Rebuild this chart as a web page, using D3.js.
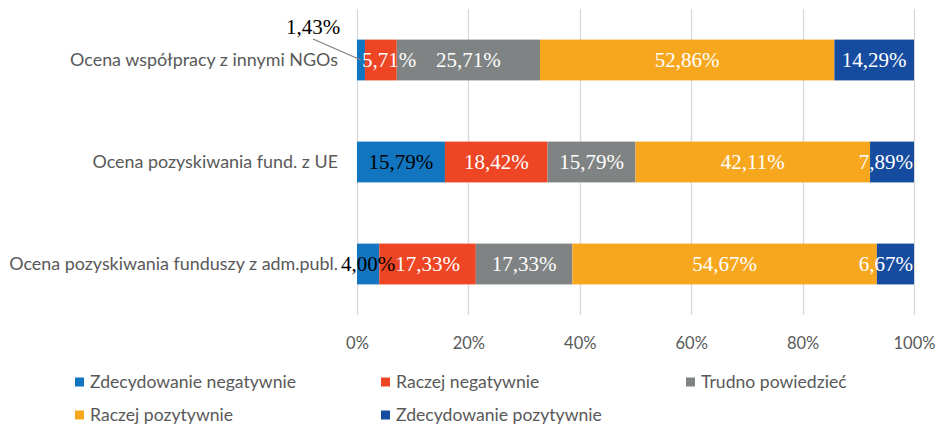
<!DOCTYPE html>
<html>
<head>
<meta charset="utf-8">
<script src="https://cdn.jsdelivr.net/npm/d3@7"></script>
<style>
  body { margin: 0; background: #fff; }
  text { font-family: "Lato", "Open Sans", sans-serif; }
</style>
</head>
<body>
<svg id="chart"></svg>
<script>
// Categories (top to bottom) and series
const categories = [
    "Ocena współpracy z innymi NGOs",
    "Ocena pozyskiwania fund. z UE",
    "Ocena pozyskiwania funduszy z adm.publ."
];
const seriesNames = [
    "Zdecydowanie negatywnie",
    "Raczej negatywnie",
    "Trudno powiedzieć",
    "Raczej pozytywnie",
    "Zdecydowanie pozytywnie"
];
const seriesColors = ["#1275bf", "#ee4524", "#7f8383", "#f7a71e", "#164ca0"];

// values in % per series, one per category
const zdecNeg = [1.43, 15.79, 4.00];
const raczNeg = [5.71, 18.42, 17.33];
const trudno  = [25.71, 15.79, 17.33];
const raczPoz = [52.86, 42.11, 54.67];
const zdecPoz = [14.29, 7.89, 6.67];
const seriesValues = [zdecNeg, raczNeg, trudno, raczPoz, zdecPoz];

const xTicks = [0, 0.2, 0.4, 0.6, 0.8, 1];

const width = 939;
const height = 426;

const svg = d3.select("#chart")
    .attr("width", width)
    .attr("height", height);

const x = d3.scaleLinear().domain([0, 1]).range([357, 914]);
const y = d3.scaleBand()
    .domain(categories)
    .range([9, 315])
    .paddingInner(0.6)
    .paddingOuter(0.3);

// Gridlines
svg.append("g")
    .selectAll("line")
    .data(xTicks)
    .enter().append("line")
    .attr("x1", d => Math.round(x(d)) + 0.5)
    .attr("x2", d => Math.round(x(d)) + 0.5)
    .attr("y1", 9)
    .attr("y2", 315)
    .attr("stroke", "#d9d9d9")
    .attr("stroke-width", 1.3);

// X axis labels
const xAxis = svg.append("g")
    .attr("transform", "translate(0,334)")
    .call(d3.axisBottom(x).tickValues(xTicks).tickFormat(d3.format(".0%")).tickSize(0));
xAxis.select(".domain").remove();
xAxis.selectAll("text")
    .attr("fill", "#595959")
    .style("font-size", "16.5px")
    .style("font-family", "Lato, sans-serif");

// Category labels
svg.append("g")
    .selectAll("text")
    .data(categories)
    .enter().append("text")
    .attr("x", 338)
    .attr("y", d => y(d) + y.bandwidth() / 2)
    .attr("dy", "0.35em")
    .attr("text-anchor", "end")
    .attr("fill", "#595959")
    .style("font-size", "17.9px")
    .text(d => d);

// Stack the data
const rows = categories.map((c, i) => {
    const r = { cat: c };
    seriesNames.forEach((s, j) => { r[s] = seriesValues[j][i] / 100; });
    return r;
});
const stacked = d3.stack().keys(seriesNames)(rows);

const layers = svg.append("g")
    .selectAll("g")
    .data(stacked)
    .enter().append("g")
    .attr("fill", (d, i) => seriesColors[i]);

layers.selectAll("rect")
    .data(d => d)
    .enter().append("rect")
    .attr("x", d => x(d[0]))
    .attr("y", d => y(d.data.cat))
    .attr("width", d => x(d[1]) - x(d[0]))
    .attr("height", y.bandwidth());

// Data labels
const fmt = v => v.toFixed(2).replace(".", ",") + "%";
const labelG = svg.append("g");
const movedOut = categories.map(() => false);
stacked.forEach((layer, j) => {
    layer.forEach((d, i) => {
        const v = seriesValues[j][i];
        const x0 = x(d[0]), x1 = x(d[1]);
        const cy = y(d.data.cat) + y.bandwidth() / 2;
        const t = labelG.append("text")
            .attr("text-anchor", "middle")
            .attr("dy", "0.35em")
            .attr("fill", j === 0 ? "#000" : "#fff")
            .style("font-family", "'Liberation Serif', 'Times New Roman', serif")
            .style("font-size", "21px")
            .text(fmt(v));
        const w = t.node().getComputedTextLength();
        if (x1 - x0 < 15) {
            // too narrow: put label outside with a leader line
            const lx = x0 - 44, ly = cy - 33;
            t.attr("x", lx).attr("y", ly);
            labelG.append("line")
                .attr("x1", lx).attr("y1", ly + 12)
                .attr("x2", (x0 + x1) / 2).attr("y2", cy)
                .attr("stroke", "#7f7f7f")
                .attr("stroke-width", 1.2);
            movedOut[i] = true;
        } else {
            let cx = (x0 + x1) / 2;
            if (j > 0 && movedOut[i]) cx = Math.max(cx, x0 + w / 2 - 3);
            cx = Math.min(cx, x.range()[1] - w / 2 - 1);
            t.attr("x", cx).attr("y", cy);
            movedOut[i] = false;
        }
    });
});

// Legend
const legCols = [75, 381, 686];
const legRows = [382, 415];
const legend = svg.append("g")
    .selectAll("g")
    .data(seriesNames)
    .enter().append("g")
    .attr("transform", (d, i) => `translate(${legCols[i % 3]},${legRows[Math.floor(i / 3)]})`);
legend.append("rect")
    .attr("x", 0)
    .attr("y", -4.5)
    .attr("width", 9)
    .attr("height", 9)
    .attr("fill", (d, i) => seriesColors[i]);
legend.append("text")
    .attr("x", 15)
    .attr("dy", "0.35em")
    .attr("fill", "#595959")
    .style("font-size", "17.6px")
    .text(d => d);
</script>
</body>
</html>
